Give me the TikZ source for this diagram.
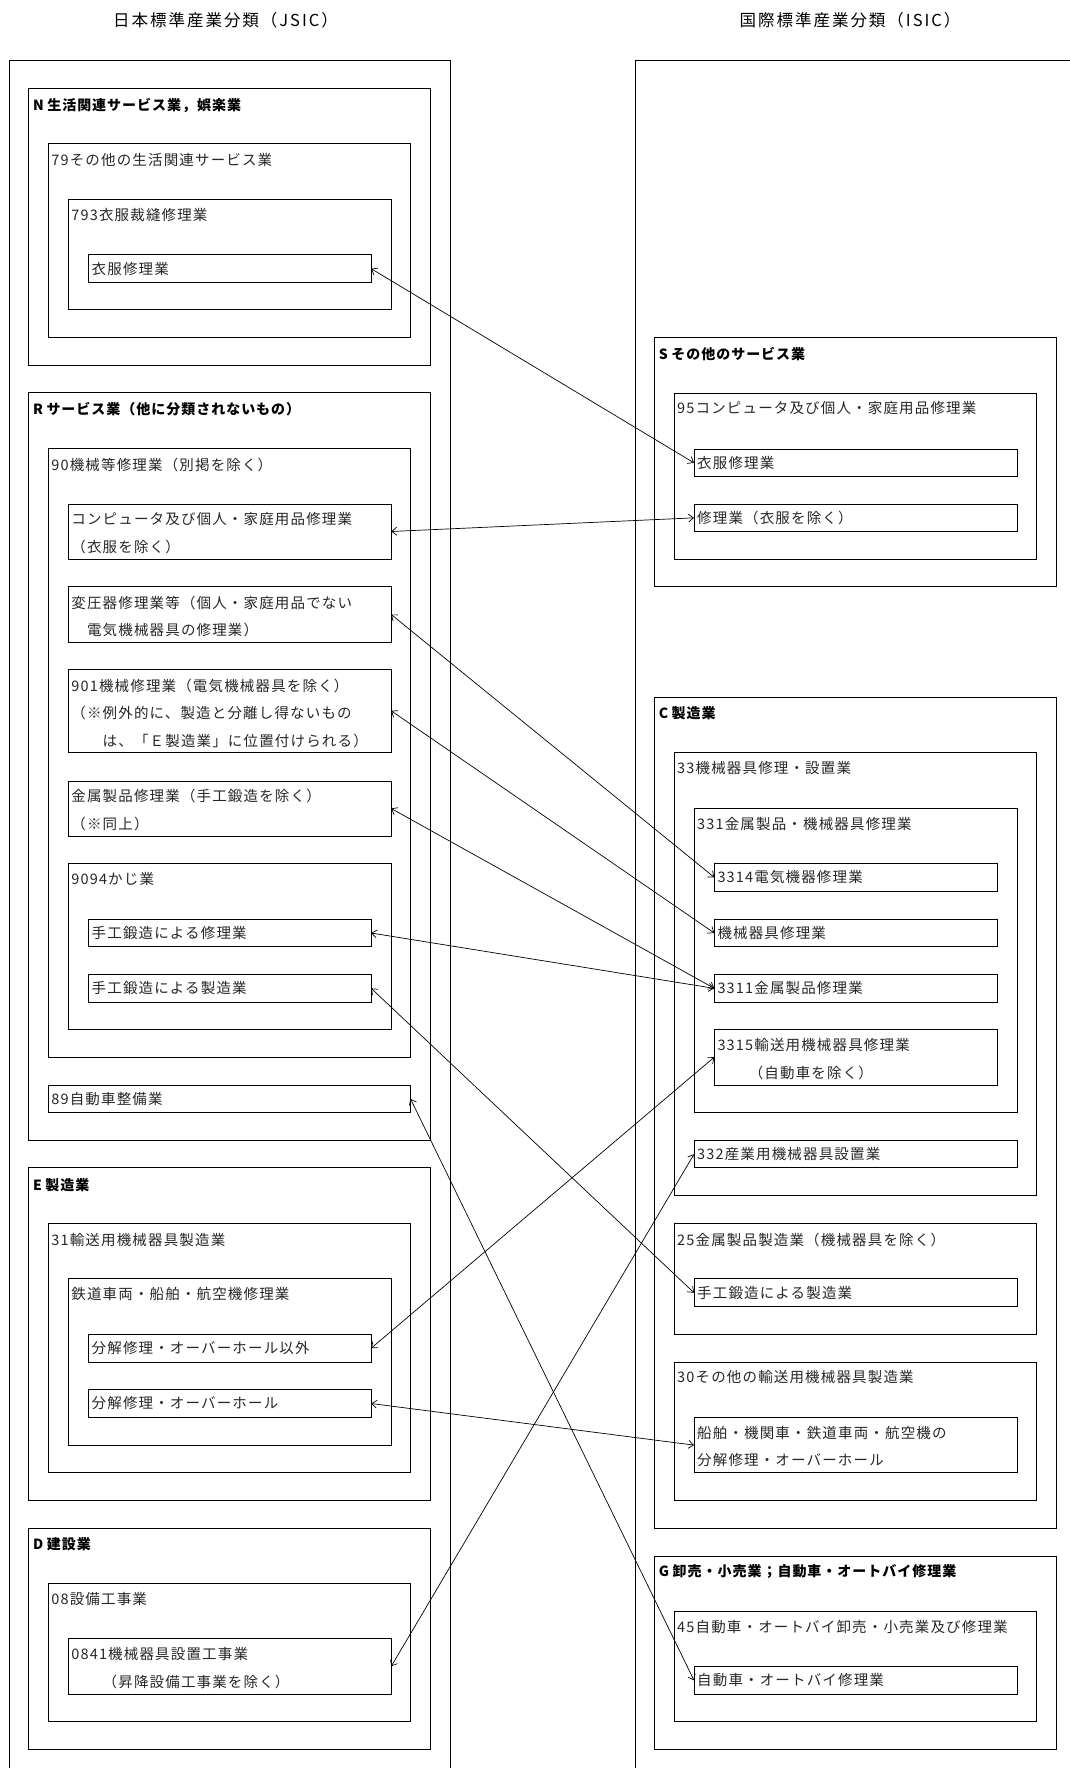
\documentclass[tikz,border=0pt]{standalone}
\usepackage{fontspec}
\setmainfont{Noto Sans CJK JP}
\newfontfamily\bodyf[LetterSpace=8]{Noto Sans CJK JP}
\newfontfamily\headf[LetterSpace=7]{Noto Sans CJK JP}
\newfontfamily\titlef[LetterSpace=12]{Noto Sans CJK JP}
\usetikzlibrary{arrows.meta}
\tikzset{
  boxst/.style={draw, line width=1pt, anchor=north west, inner sep=0pt, outer sep=0pt},
  hd/.style={anchor=west, inner sep=0pt, font=\headf\bfseries\fontsize{14}{16}\selectfont},
  tx/.style={anchor=west, inner sep=0pt, text=black!85, font=\bodyf\fontsize{14.5}{17}\selectfont},
  ttl/.style={anchor=center, inner sep=0pt, font=\titlef\fontsize{16.5}{19}\selectfont},
  conn/.style={{Straight Barb[length=5pt,width=8pt]}-{Straight Barb[length=5pt,width=8pt]}, line width=0.7pt},
}
\newcommand\lt[1]{#1\hspace{3.5pt}}
\begin{document}
\begin{tikzpicture}[x=1pt,y=-1pt]
\useasboundingbox (0,0) rectangle (1069,1768);

% titles
\node[ttl] (t1) at (225.5,20) {日本標準産業分類（JSIC）};
\node[ttl] (t2) at (850,20) {国際標準産業分類（ISIC）};

% outer frames
\node[boxst, minimum width=441.1pt, minimum height=1760pt] (jsic) at (9.3,60.7) {};
\node[boxst, minimum width=480pt, minimum height=1760pt] (isic) at (635.1,60.7) {};

% ===== Left column =====
% N
\node[boxst, minimum width=401.5pt, minimum height=276.6pt] (N) at (28.9,88.7) {};
\node[hd] (N-t) at ([shift={(4,17)}]N.north west) {\lt{N}生活関連サービス業，娯楽業};
\node[boxst, minimum width=362.3pt, minimum height=193.3pt] (N79) at (48.2,144) {};
\node[tx] (N79-t) at ([shift={(3,15.8)}]N79.north west) {79その他の生活関連サービス業};
\node[boxst, minimum width=323pt, minimum height=110.7pt] (N793) at (68.2,199.3) {};
\node[tx] (N793-t) at ([shift={(3,15.8)}]N793.north west) {793衣服裁縫修理業};
\node[boxst, minimum width=282.7pt, minimum height=28pt] (Lcl) at (88.5,254.7) {};
\node[tx] (Lcl-t) at ([shift={(3,0)}]Lcl.west) {衣服修理業};

% R
\node[boxst, minimum width=401.5pt, minimum height=747.3pt] (R) at (28.9,392.7) {};
\node[hd] (R-t) at ([shift={(4,16.6)}]R.north west) {\lt{R}サービス業（他に分類されないもの）};
\node[boxst, minimum width=362.3pt, minimum height=609pt] (R90) at (48.2,448.3) {};
\node[tx] (R90-t) at ([shift={(3,16.5)}]R90.north west) {90機械等修理業（別掲を除く）};
\node[boxst, minimum width=323pt, minimum height=55pt] (Rcomp) at (68.2,504) {};
\node[tx] (Rcomp-t1) at ([shift={(3,15.4)}]Rcomp.north west) {コンピュータ及び個人・家庭用品修理業};
\node[tx] (Rcomp-t2) at ([shift={(3,42.8)}]Rcomp.north west) {（衣服を除く）};
\node[boxst, minimum width=323pt, minimum height=55.6pt] (Rtr) at (68.2,586.7) {};
\node[tx] (Rtr-t1) at ([shift={(3,16)}]Rtr.north west) {変圧器修理業等（個人・家庭用品でない};
\node[tx] (Rtr-t2) at ([shift={(3,43.3)}]Rtr.north west) {　電気機械器具の修理業）};
\node[boxst, minimum width=323pt, minimum height=83pt] (R901) at (68.2,669.3) {};
\node[tx] (R901-t1) at ([shift={(3,16.5)}]R901.north west) {901機械修理業（電気機械器具を除く）};
\node[tx] (R901-t2) at ([shift={(3,44)}]R901.north west) {（※例外的に、製造と分離し得ないもの};
\node[tx] (R901-t3) at ([shift={(3,71.6)}]R901.north west) {　　は、「Ｅ製造業」に位置付けられる）};
\node[boxst, minimum width=323pt, minimum height=55pt] (Rmet) at (68.2,781) {};
\node[tx] (Rmet-t1) at ([shift={(3,15.2)}]Rmet.north west) {金属製品修理業（手工鍛造を除く）};
\node[tx] (Rmet-t2) at ([shift={(3,42.5)}]Rmet.north west) {（※同上）};
\node[boxst, minimum width=323pt, minimum height=166pt] (R9094) at (68.2,863.3) {};
\node[tx] (R9094-t) at ([shift={(3,16)}]R9094.north west) {9094かじ業};
\node[boxst, minimum width=282.7pt, minimum height=27.4pt] (Rfr) at (88.5,919.3) {};
\node[tx] (Rfr-t) at ([shift={(3,0)}]Rfr.west) {手工鍛造による修理業};
\node[boxst, minimum width=282.7pt, minimum height=27.3pt] (Rfm) at (88.5,974.7) {};
\node[tx] (Rfm-t) at ([shift={(3,0)}]Rfm.west) {手工鍛造による製造業};
\node[boxst, minimum width=362.3pt, minimum height=27.7pt] (R89) at (48.2,1085) {};
\node[tx] (R89-t) at ([shift={(3,0)}]R89.west) {89自動車整備業};

% E
\node[boxst, minimum width=401.5pt, minimum height=332.3pt] (E) at (28.9,1167.7) {};
\node[hd] (E-t) at ([shift={(4,17)}]E.north west) {\lt{E}製造業};
\node[boxst, minimum width=362.3pt, minimum height=249.2pt] (E31) at (48.2,1223.3) {};
\node[tx] (E31-t) at ([shift={(3,16.5)}]E31.north west) {31輸送用機械器具製造業};
\node[boxst, minimum width=323pt, minimum height=166.3pt] (Erail) at (68.2,1278.7) {};
\node[tx] (Erail-t) at ([shift={(3,15.5)}]Erail.north west) {鉄道車両・船舶・航空機修理業};
\node[boxst, minimum width=282.7pt, minimum height=27.7pt] (Eoh1) at (88.5,1334.3) {};
\node[tx] (Eoh1-t) at ([shift={(3,0)}]Eoh1.west) {分解修理・オーバーホール以外};
\node[boxst, minimum width=282.7pt, minimum height=27.6pt] (Eoh2) at (88.5,1389.7) {};
\node[tx] (Eoh2-t) at ([shift={(3,0)}]Eoh2.west) {分解修理・オーバーホール};

% D
\node[boxst, minimum width=401.5pt, minimum height=221pt] (D) at (28.9,1528.3) {};
\node[hd] (D-t) at ([shift={(4,15.5)}]D.north west) {\lt{D}建設業};
\node[boxst, minimum width=362.3pt, minimum height=138.4pt] (D08) at (48.2,1583.3) {};
\node[tx] (D08-t) at ([shift={(3,16)}]D08.north west) {08設備工事業};
\node[boxst, minimum width=323pt, minimum height=55.3pt] (D0841) at (68.2,1638.7) {};
\node[tx] (D0841-t1) at ([shift={(3,15.6)}]D0841.north west) {0841機械器具設置工事業};
\node[tx] (D0841-t2) at ([shift={(3,43)}]D0841.north west) {　　（昇降設備工事業を除く）};

% ===== Right column =====
% S
\node[boxst, minimum width=401.5pt, minimum height=249.4pt] (S) at (654.7,337.3) {};
\node[hd] (S-t) at ([shift={(4,16.7)}]S.north west) {\lt{S}その他のサービス業};
\node[boxst, minimum width=362.3pt, minimum height=165.7pt] (S95) at (674,393.3) {};
\node[tx] (S95-t) at ([shift={(3,15.2)}]S95.north west) {95コンピュータ及び個人・家庭用品修理業};
\node[boxst, minimum width=323pt, minimum height=27.7pt] (Scl) at (694,449) {};
\node[tx] (Scl-t) at ([shift={(3,0)}]Scl.west) {衣服修理業};
\node[boxst, minimum width=323pt, minimum height=27.7pt] (Srep) at (694,504) {};
\node[tx] (Srep-t) at ([shift={(3,0)}]Srep.west) {修理業（衣服を除く）};

% C
\node[boxst, minimum width=401.5pt, minimum height=831pt] (C) at (654.7,697.3) {};
\node[hd] (C-t) at ([shift={(4,16)}]C.north west) {\lt{C}製造業};
\node[boxst, minimum width=362.3pt, minimum height=442.3pt] (C33) at (674,752.7) {};
\node[tx] (C33-t) at ([shift={(3,15.6)}]C33.north west) {33機械器具修理・設置業};
\node[boxst, minimum width=323pt, minimum height=304pt] (C331) at (694,808.7) {};
\node[tx] (C331-t) at ([shift={(3,15.3)}]C331.north west) {331金属製品・機械器具修理業};
\node[boxst, minimum width=282.7pt, minimum height=27.3pt] (C3314) at (714.3,863.7) {};
\node[tx] (C3314-t) at ([shift={(3,0)}]C3314.west) {3314電気機器修理業};
\node[boxst, minimum width=282.7pt, minimum height=27.4pt] (Cmach) at (714.3,919.3) {};
\node[tx] (Cmach-t) at ([shift={(3,0)}]Cmach.west) {機械器具修理業};
\node[boxst, minimum width=282.7pt, minimum height=27.3pt] (C3311) at (714.3,974.7) {};
\node[tx] (C3311-t) at ([shift={(3,0)}]C3311.west) {3311金属製品修理業};
\node[boxst, minimum width=282.7pt, minimum height=55.7pt] (C3315) at (714.3,1029.3) {};
\node[tx] (C3315-t1) at ([shift={(3,15.7)}]C3315.north west) {3315輸送用機械器具修理業};
\node[tx] (C3315-t2) at ([shift={(3,44)}]C3315.north west) {　　（自動車を除く）};
\node[boxst, minimum width=323pt, minimum height=27pt] (C332) at (694,1140.7) {};
\node[tx] (C332-t) at ([shift={(3,0)}]C332.west) {332産業用機械器具設置業};
\node[boxst, minimum width=362.3pt, minimum height=110.7pt] (C25) at (674,1223.3) {};
\node[tx] (C25-t) at ([shift={(3,16.5)}]C25.north west) {25金属製品製造業（機械器具を除く）};
\node[boxst, minimum width=323pt, minimum height=28pt] (C25f) at (694,1278.7) {};
\node[tx] (C25f-t) at ([shift={(3,0)}]C25f.west) {手工鍛造による製造業};
\node[boxst, minimum width=362.3pt, minimum height=138pt] (C30) at (674,1362) {};
\node[tx] (C30-t) at ([shift={(3,15.3)}]C30.north west) {30その他の輸送用機械器具製造業};
\node[boxst, minimum width=323pt, minimum height=54.8pt] (C30s) at (694,1417.7) {};
\node[tx] (C30s-t1) at ([shift={(3,15.6)}]C30s.north west) {船舶・機関車・鉄道車両・航空機の};
\node[tx] (C30s-t2) at ([shift={(3,42.5)}]C30s.north west) {分解修理・オーバーホール};

% G
\node[boxst, minimum width=401.5pt, minimum height=193.3pt] (G) at (654.7,1556) {};
\node[hd] (G-t) at ([shift={(4,15.3)}]G.north west) {\lt{G}卸売・小売業；自動車・オートバイ修理業};
\node[boxst, minimum width=362.3pt, minimum height=110.7pt] (G45) at (674,1611) {};
\node[tx] (G45-t) at ([shift={(3,15.7)}]G45.north west) {45自動車・オートバイ卸売・小売業及び修理業};
\node[boxst, minimum width=323pt, minimum height=27.3pt] (Gauto) at (694,1666.7) {};
\node[tx] (Gauto-t) at ([shift={(3,0)}]Gauto.west) {自動車・オートバイ修理業};

% ===== connectors =====
\draw[conn] (Lcl.east) -- (Scl.west);
\draw[conn] (Rcomp.east) -- (Srep.west);
\draw[conn] (Rtr.east) -- (C3314.west);
\draw[conn] (R901.east) -- (Cmach.west);
\draw[conn] (Rmet.east) -- (C3311.west);
\draw[conn] (Rfr.east) -- (C3311.west);
\draw[conn] (Rfm.east) -- (C25f.west);
\draw[conn] (R89.east) -- (Gauto.west);
\draw[conn] (Eoh1.east) -- (C3315.west);
\draw[conn] (Eoh2.east) -- (C30s.west);
\draw[conn] (D0841.east) -- (C332.west);
\end{tikzpicture}
\end{document}
